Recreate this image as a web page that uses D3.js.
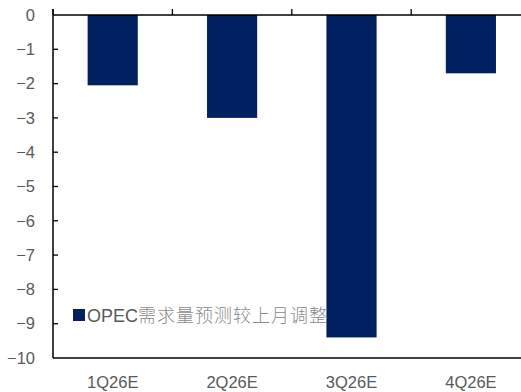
<!DOCTYPE html>
<html><head><meta charset="utf-8">
<script src="https://cdn.jsdelivr.net/npm/d3@7"></script>
<style>
html,body{margin:0;padding:0;background:#fff;}
svg{display:block;}
</style></head>
<body>
<svg id="chart" width="521" height="392"></svg>
<script>
const categories = ["1Q26E", "2Q26E", "3Q26E", "4Q26E"];
const values = [-2.05, -3.0, -9.4, -1.7];
const yTicks = [0, -1, -2, -3, -4, -5, -6, -7, -8, -9, -10];
const seriesName = "OPEC需求量预测较上月调整";

const svg = d3.select("#chart");
const pLeft = 53, pTop = 15, pBottom = 358, pRight = 530.6;

const y = d3.scaleLinear().domain([0, -10]).range([pTop, pBottom]);
const x = d3.scaleBand().domain(categories).range([pLeft, pRight])
  .paddingInner(0.58).paddingOuter(0.29);
const step = x.step();
const font = "'Liberation Sans', Arial, sans-serif";

// bars
svg.append("g").selectAll("rect").data(values).join("rect")
  .attr("x", (d, i) => x(categories[i]))
  .attr("width", x.bandwidth())
  .attr("y", d => y(Math.max(0, d)))
  .attr("height", d => Math.abs(y(d) - y(0)))
  .attr("fill", "#002060");

// y axis
const yAxis = d3.axisLeft(y).tickValues(yTicks).tickSize(0).tickPadding(18)
  .tickFormat(d3.format("d"));
const gy = svg.append("g").attr("transform", `translate(${pLeft},0)`).call(yAxis);
gy.select(".domain").remove();
gy.selectAll("text").attr("font-family", font).attr("font-size", 16.5).attr("fill", "#595959");
// inner ticks
svg.append("g").selectAll("line").data(yTicks.filter(t => t !== 0 && t !== -10)).join("line")
  .attr("x1", pLeft).attr("x2", pLeft + 5)
  .attr("y1", d => y(d)).attr("y2", d => y(d))
  .attr("stroke", "#000").attr("stroke-width", 1.3);

// y axis line (extends a bit above zero for the category tick)
svg.append("line").attr("x1", pLeft).attr("x2", pLeft).attr("y1", pTop - 6).attr("y2", pBottom)
  .attr("stroke", "#000").attr("stroke-width", 1.5);

// zero category axis with upward ticks at band boundaries
svg.append("line").attr("x1", pLeft).attr("x2", pRight).attr("y1", y(0)).attr("y2", y(0))
  .attr("stroke", "#000").attr("stroke-width", 1.5);
svg.append("g").selectAll("line").data(d3.range(categories.length + 1)).join("line")
  .attr("x1", i => pLeft + i * step).attr("x2", i => pLeft + i * step)
  .attr("y1", y(0)).attr("y2", y(0) - 6)
  .attr("stroke", "#000").attr("stroke-width", 1.3);

// bottom line
svg.append("line").attr("x1", pLeft).attr("x2", pRight).attr("y1", pBottom).attr("y2", pBottom)
  .attr("stroke", "#000").attr("stroke-width", 1.5);

// category labels at bottom
const xAxis = d3.axisBottom(x).tickSize(0).tickPadding(0);
const gx = svg.append("g").attr("transform", `translate(0,${pBottom})`).call(xAxis);
gx.select(".domain").remove();
gx.selectAll("text").attr("font-family", font).attr("font-size", 16.5)
  .attr("fill", "#595959").attr("dy", null).attr("y", 30);

// legend
const lg = svg.append("g").attr("transform", "translate(73,309)");
lg.append("rect").attr("width", 12).attr("height", 12).attr("fill", "#002060");
const lt = lg.append("text").attr("x", 14).attr("y", 13)
  .attr("font-size", 18);
lt.append("tspan").attr("font-family", font).attr("fill", "#595959").text(seriesName.slice(0, 4));
lt.append("tspan").attr("font-family", "'Noto Sans CJK SC', sans-serif").attr("fill", "#8a8a8a")
  .attr("font-weight", 300).attr("letter-spacing", 1).text(seriesName.slice(4));
</script>
</body></html>
